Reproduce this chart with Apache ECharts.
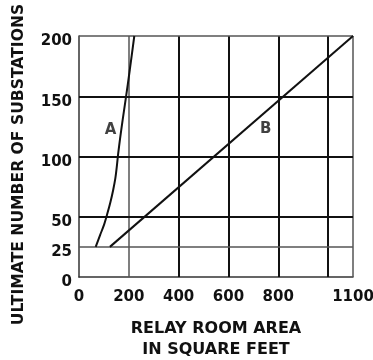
<!DOCTYPE html>
<html>
<head>
<meta charset="utf-8">
<script src="https://cdn.jsdelivr.net/npm/echarts@6/dist/echarts.min.js"></script>
<style>
  html, body { margin: 0; padding: 0; background: #fff; }
  #chart { width: 373px; height: 360px; }
</style>
</head>
<body>
<div id="chart"></div>
<script>
// Relay room area needed versus ultimate number of substations
const xTickLabels = [0, 200, 400, 600, 800, 1100];
const yTickLabels = [0, 25, 50, 100, 150, 200];

// grid rules: [value, weight] — heavy rules drawn darker
const xRules = [[200, 'light'], [400, 'heavy'], [600, 'heavy'], [800, 'heavy'], [1000, 'heavy'], [1100, 'light']];
const yRules = [[25, 'light'], [50, 'heavy'], [100, 'heavy'], [150, 'heavy'], [200, 'light']];

// curve A: area in sq ft (x) against number of substations (y)
const curveAArea = [67, 85, 100, 113, 126, 137, 146, 152, 157, 165, 175, 187, 204, 222];
const curveASubs = [25, 35, 43, 52, 62, 72, 82, 92, 102, 115, 130, 147, 172, 200];

// curve B: straight line
const curveBArea = [124, 1100];
const curveBSubs = [25, 200];

// curve captions
const captions = [
  { name: 'A', area: 127, subs: 122 },
  { name: 'B', area: 750, subs: 123 }
];

const font = 'DejaVu Sans';
const ink = '#111';

const pairs = (xs, ys) => xs.map((x, i) => [x, ys[i]]);

const ruleStyle = w => w === 'heavy'
  ? { color: '#111', width: 2, type: 'solid' }
  : { color: '#555', width: 1.5, type: 'solid' };

const ruleLines = [
  ...xRules.map(([v, w]) => ({ xAxis: v, lineStyle: ruleStyle(w) })),
  ...yRules.map(([v, w]) => ({ yAxis: v, lineStyle: ruleStyle(w) }))
];

const chart = echarts.init(document.getElementById('chart'), null, { renderer: 'canvas' });

chart.setOption({
  backgroundColor: '#fff',
  animation: false,
  grid: { left: 79, right: 20, top: 36, bottom: 83, containLabel: false, outerBoundsMode: 'none' },
  xAxis: {
    type: 'value',
    min: 0,
    max: 1100,
    interval: 100,
    name: 'RELAY ROOM AREA\nIN SQUARE FEET',
    nameLocation: 'middle',
    nameGap: 41,
    nameTextStyle: { fontFamily: font, fontSize: 16, fontWeight: 'bold', color: ink, lineHeight: 21, verticalAlign: 'top' },
    axisLine: { show: true, onZero: false, lineStyle: { color: '#333', width: 1.5 } },
    axisTick: { show: false },
    splitLine: { show: false },
    axisLabel: {
      fontFamily: font, fontSize: 15, fontWeight: 'bold', color: ink, margin: 13,
      showMaxLabel: true,
      formatter: v => xTickLabels.includes(v) ? String(v) : ''
    }
  },
  yAxis: {
    type: 'value',
    min: 0,
    max: 200,
    interval: 25,
    name: 'ULTIMATE NUMBER OF SUBSTATIONS',
    nameLocation: 'middle',
    nameGap: 52,
    nameRotate: 90,
    nameTextStyle: { fontFamily: font, fontSize: 15.6, fontWeight: 'bold', color: ink, padding: [0, 16, 0, 0] },
    axisLine: { show: true, onZero: false, lineStyle: { color: '#333', width: 1.5 } },
    axisTick: { show: false },
    splitLine: { show: false },
    axisLabel: {
      fontFamily: font, fontSize: 15, fontWeight: 'bold', color: ink, margin: 7,
      verticalAlign: 'top', lineHeight: 11,
      formatter: v => yTickLabels.includes(v) ? String(v) : ''
    }
  },
  series: [
    {
      name: 'rules',
      type: 'line',
      data: [],
      silent: true,
      markLine: {
        symbol: 'none',
        silent: true,
        label: { show: false },
        data: ruleLines
      }
    },
    {
      name: 'A',
      type: 'line',
      smooth: 0.3,
      showSymbol: false,
      data: pairs(curveAArea, curveASubs),
      lineStyle: { color: ink, width: 2 },
      z: 5
    },
    {
      name: 'B',
      type: 'line',
      showSymbol: false,
      data: pairs(curveBArea, curveBSubs),
      lineStyle: { color: ink, width: 2 },
      z: 5
    },
    {
      name: 'captions',
      type: 'scatter',
      symbolSize: 0,
      data: captions.map(c => ({ name: c.name, value: [c.area, c.subs] })),
      label: {
        show: true,
        position: 'inside',
        formatter: p => p.name,
        fontFamily: font,
        fontSize: 15,
        fontWeight: 'bold',
        color: ink,
        textBorderWidth: 0,
        textBorderColor: 'transparent'
      },
      z: 6
    }
  ]
});
</script>
</body>
</html>
